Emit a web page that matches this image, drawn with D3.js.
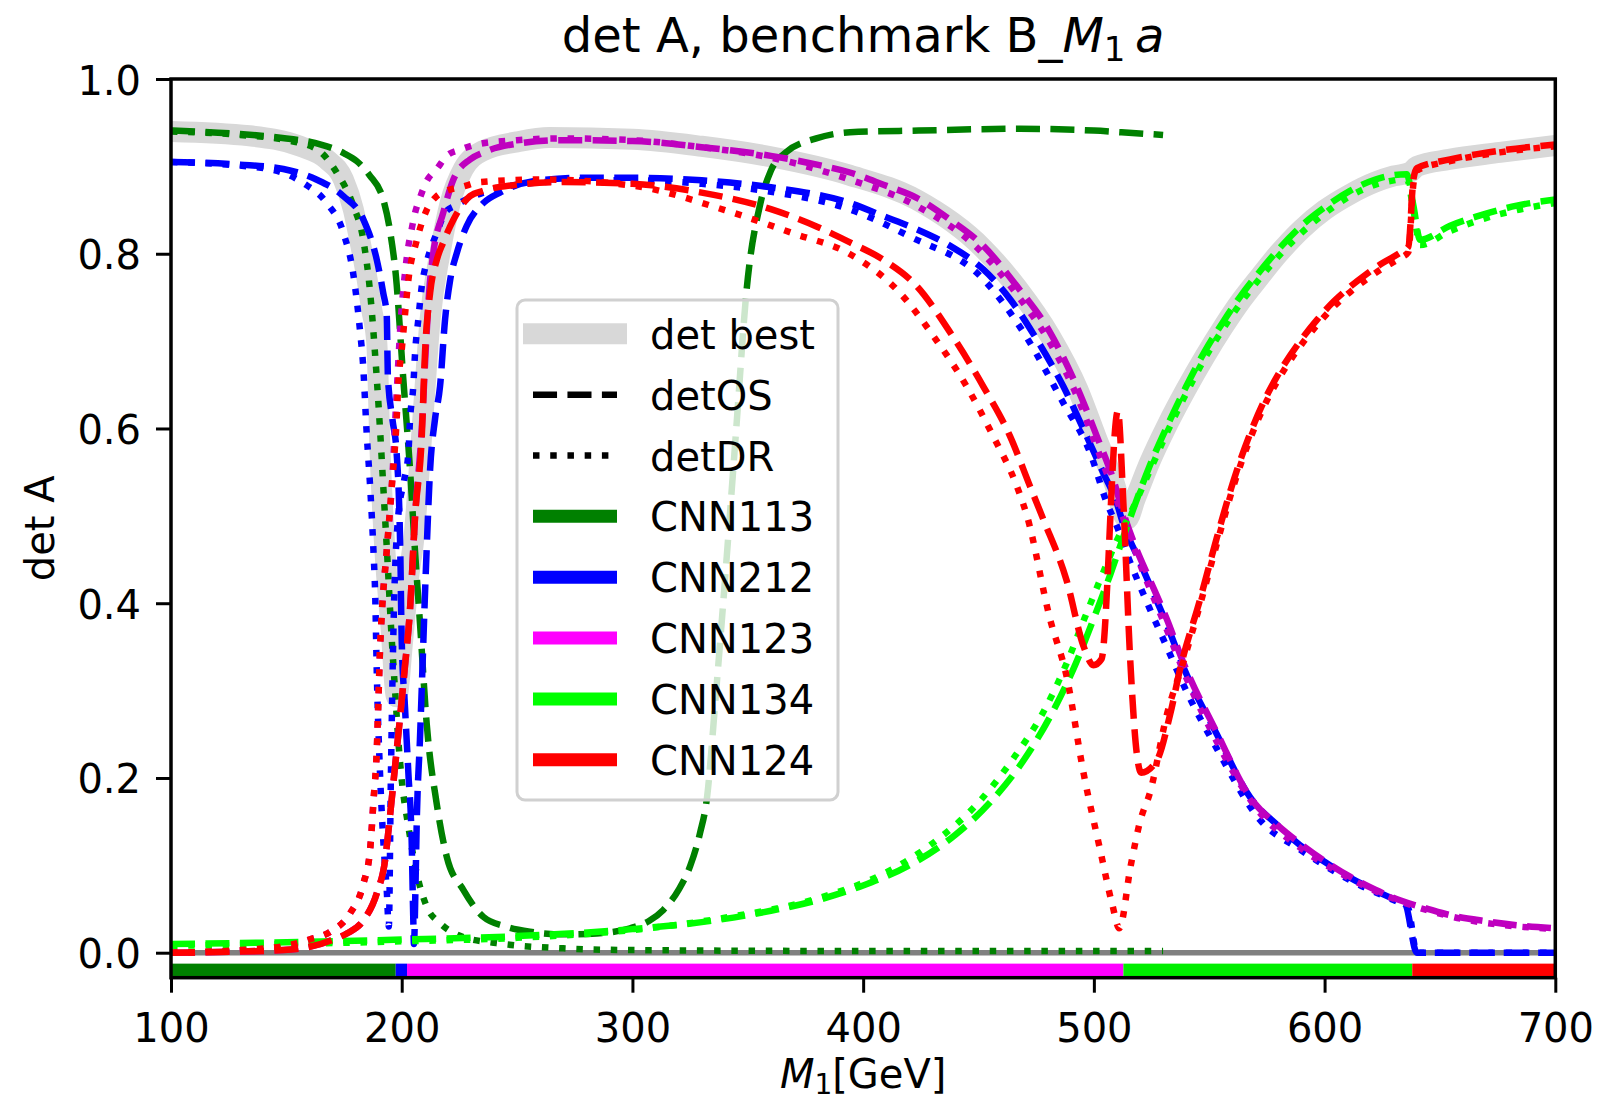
<!DOCTYPE html>
<html><head><meta charset="utf-8">
<script src="https://cdn.jsdelivr.net/npm/d3@7"></script>
<style>
html,body{margin:0;padding:0;background:#fff;}
svg text{font-family:"DejaVu Sans",sans-serif;fill:#000;}
</style></head>
<body>
<svg id="chart" width="1600" height="1105"></svg>
<script>
// ---------------- data ----------------
const xTicks = [100, 200, 300, 400, 500, 600, 700];
const yTicks = [0.0, 0.2, 0.4, 0.6, 0.8, 1.0];
const legendLabels = ["det best", "detOS", "detDR", "CNN113", "CNN212", "CNN123", "CNN134", "CNN124"];
const models = ["CNN113", "CNN212", "CNN123", "CNN134", "CNN124"];

const detBest = [[100,0.94],[134,0.935],[156,0.923],[167.5,0.908],[174.7,0.885],[179,0.851],[182,0.813],[184.8,0.774],[187,0.736],[189.2,0.698],[190.6,0.575],[192.8,0.457],[195.3,0.375],[197.8,0.293],[200.5,0.36],[203,0.43],[205.5,0.48],[207.5,0.55],[209.4,0.62],[212.3,0.725],[216.6,0.801],[221,0.858],[226.7,0.897],[235.4,0.918],[250,0.928],[264,0.933],[300,0.931],[330,0.923],[360,0.911],[394,0.89],[423,0.862],[452,0.806],[467,0.76],[481,0.706],[493,0.645],[501,0.59],[508.5,0.54],[514.3,0.496],[518,0.52],[524,0.56],[532,0.605],[540,0.645],[548,0.682],[556,0.716],[564,0.747],[572,0.774],[580,0.8],[590,0.828],[600,0.85],[611,0.868],[622,0.882],[630,0.889],[637,0.893],[640,0.9],[654,0.908],[676,0.916],[700,0.924]];

const zeroLine = [[100,0],[700,0]];

const cnn113OS = [[100,0.941],[130,0.937],[150,0.932],[165,0.925],[175,0.915],[180.5,0.906],[186,0.89],[192,0.862],[195,0.825],[197.5,0.774],[200.7,0.656],[203.6,0.553],[205.8,0.458],[207.9,0.378],[210.8,0.263],[215.2,0.17],[219.5,0.11],[226.7,0.072],[235.4,0.041],[245,0.03],[255.6,0.024],[270,0.021],[284.5,0.022],[299,0.028],[307,0.036],[313.4,0.049],[320,0.072],[325,0.099],[329.3,0.137],[332.2,0.175],[336,0.29],[340.9,0.454],[345,0.6],[349.5,0.759],[355.4,0.857],[360,0.895],[366.5,0.916],[379.7,0.932],[394.3,0.939],[424,0.941],[468,0.943],[500,0.941],[512,0.939],[530,0.936]];
const cnn113DR = [[100,0.94],[130,0.936],[150,0.93],[163,0.92],[171.8,0.893],[179,0.855],[183.4,0.815],[186.3,0.756],[188.4,0.687],[190.6,0.599],[192,0.534],[193.5,0.465],[195.7,0.358],[197.1,0.301],[198.5,0.244],[200,0.198],[202.9,0.144],[206.5,0.091],[210.8,0.053],[216.6,0.034],[226.6,0.018],[241,0.011],[270,0.005],[300,0.003],[400,0.002],[530,0.002]];

const cnn212OS = [[100,0.905],[130,0.902],[148.7,0.897],[163,0.885],[174.7,0.866],[183.4,0.839],[189.2,0.793],[192,0.755],[193.5,0.73],[194,0.66],[196,0.61],[197.8,0.572],[199.3,0.47],[200,0.358],[201.4,0.282],[202.9,0.205],[204.3,0.129],[205,0.04],[205.3,0.01],[206,0.08],[206.5,0.148],[207.9,0.244],[210.8,0.461],[212.3,0.553],[214.4,0.61],[216.6,0.648],[218.8,0.725],[221,0.77],[223.9,0.801],[228.2,0.832],[235.4,0.858],[242.6,0.87],[257,0.883],[280,0.887],[300,0.887],[330,0.884],[360,0.876],[394.3,0.858],[408.8,0.843],[423.2,0.828],[437.7,0.809],[452.1,0.782],[463.7,0.748],[475.2,0.702],[486.8,0.648],[495.5,0.599],[504.1,0.549],[509.9,0.515],[512.8,0.49],[518.6,0.455],[524.4,0.42],[531.6,0.376],[538.8,0.327],[553.3,0.25],[567.7,0.178],[580,0.145],[589.4,0.123],[600,0.104],[611,0.086],[622,0.071],[632.7,0.058],[635,0.055],[640,0.0],[700,0.0]];
const cnn212DR = [[100,0.905],[140,0.898],[157.3,0.881],[167.5,0.858],[174.7,0.824],[179.1,0.775],[182,0.71],[183.2,0.675],[184.9,0.591],[186.3,0.534],[187.8,0.457],[188.5,0.41],[189.2,0.32],[190.6,0.205],[192,0.129],[193.5,0.072],[194.4,0.03],[195.3,0.2],[196.5,0.38],[198.5,0.5],[201,0.54],[202.9,0.572],[203.6,0.61],[205,0.648],[205.8,0.687],[207.2,0.725],[208.7,0.763],[210.8,0.79],[213,0.809],[215.2,0.824],[218.8,0.847],[223.1,0.855],[235.4,0.87],[250,0.879],[280,0.884],[300,0.884],[330,0.88],[360,0.871],[394,0.851],[420,0.82],[452,0.771],[469.5,0.71],[486.8,0.629],[498.4,0.572],[505.6,0.515],[510,0.488],[515,0.452],[524,0.395],[531.6,0.35],[540,0.3],[553,0.235],[572,0.152],[589.4,0.118],[611,0.083],[632.7,0.057],[636,0.053],[640,0.0],[700,0.0]];

const cnn123OS = [[100,0.0],[148.7,0.003],[170.4,0.015],[176.2,0.022],[183.4,0.037],[189.2,0.068],[192.8,0.106],[194.9,0.156],[197.1,0.213],[199.3,0.27],[201.4,0.328],[203.6,0.393],[205.8,0.5],[208.7,0.6],[210.6,0.7],[212,0.76],[213.7,0.801],[218,0.847],[222.4,0.885],[229.6,0.908],[235.4,0.916],[250,0.926],[270,0.93],[300,0.929],[330,0.922],[360,0.912],[380,0.902],[394.3,0.893],[408.8,0.879],[423.2,0.864],[437.7,0.839],[452.1,0.809],[466.6,0.763],[481,0.71],[492.6,0.648],[501.3,0.591],[508.5,0.541],[512.8,0.503],[518.6,0.461],[524.4,0.426],[531.6,0.382],[538.8,0.332],[553.3,0.252],[567.7,0.178],[580,0.145],[589.4,0.125],[600,0.105],[611,0.087],[622,0.072],[632.7,0.06],[645,0.05],[654.4,0.043],[670,0.036],[685,0.031],[700,0.028]];
const cnn123DR = [[100,0.0],[130,0.003],[150,0.008],[160,0.015],[169,0.024],[177.6,0.045],[183.4,0.079],[186.3,0.118],[187.8,0.175],[189.2,0.232],[189.9,0.289],[190.6,0.347],[191.3,0.385],[193.5,0.46],[195.7,0.534],[197.8,0.64],[199.5,0.72],[201.5,0.78],[202.9,0.809],[204.3,0.828],[205.8,0.847],[207.9,0.864],[210.8,0.883],[215.2,0.897],[219.5,0.912],[225.3,0.919],[232.5,0.925],[250,0.93],[270,0.932],[300,0.93],[330,0.922],[360,0.91],[394,0.885],[423,0.855],[452,0.8],[467,0.752],[481,0.698],[493,0.635],[501,0.58],[508,0.532],[512.8,0.497],[520,0.445],[531.6,0.37],[540,0.315],[553,0.243],[572,0.16],[589,0.121],[611,0.085],[632.7,0.059],[654,0.042],[700,0.027]];

const cnn134OS = [[100,0.01],[150,0.012],[200,0.015],[250,0.019],[300,0.027],[330,0.035],[360,0.048],[380,0.06],[400,0.077],[420,0.1],[440,0.135],[455,0.172],[470,0.222],[482,0.275],[492,0.33],[500,0.383],[507,0.432],[512,0.47],[517,0.507],[524,0.556],[532,0.604],[540,0.648],[548,0.688],[556,0.722],[564,0.753],[572,0.78],[580,0.805],[590,0.832],[600,0.853],[611,0.872],[622,0.885],[630,0.89],[635.6,0.891],[638.5,0.855],[641.4,0.816],[654.4,0.832],[668.9,0.845],[683.3,0.855],[700,0.862]];
const cnn134DR = [[100,0.008],[150,0.01],[200,0.013],[250,0.017],[300,0.026],[340,0.04],[380,0.062],[410,0.092],[430,0.125],[450,0.172],[465,0.222],[478,0.275],[488,0.33],[496,0.383],[504,0.435],[510,0.472],[515.7,0.502],[524,0.55],[532,0.597],[540,0.64],[548,0.68],[556,0.714],[564,0.745],[572,0.772],[580,0.797],[590,0.824],[600,0.846],[611,0.866],[622,0.879],[630,0.884],[635.6,0.886],[638.5,0.85],[641.4,0.81],[654.4,0.826],[668.9,0.84],[683.3,0.85],[700,0.858]];

const cnn124OS = [[100,0.0],[148.7,0.003],[170.4,0.015],[176.2,0.022],[183.4,0.037],[189.2,0.068],[192.8,0.106],[194.9,0.156],[197.1,0.213],[199.3,0.27],[201.4,0.328],[203.6,0.393],[205.8,0.5],[208.7,0.591],[210.1,0.687],[212.3,0.755],[215.2,0.793],[218,0.813],[222.4,0.839],[229.6,0.866],[235.4,0.872],[250,0.879],[270,0.882],[300,0.88],[330,0.87],[360,0.851],[380,0.831],[394.3,0.813],[408.8,0.793],[423.2,0.763],[437.7,0.71],[452.1,0.648],[463.7,0.591],[472.3,0.534],[478.1,0.496],[488.2,0.426],[495.5,0.351],[499.8,0.329],[503.3,0.336],[510.4,0.62],[512.8,0.514],[515.7,0.338],[518.6,0.228],[520.5,0.206],[527.3,0.22],[533,0.272],[537.4,0.325],[546,0.404],[553.3,0.475],[560.5,0.54],[567.7,0.594],[575,0.638],[582.2,0.672],[589.4,0.7],[596.6,0.724],[603.8,0.745],[611,0.762],[618.3,0.777],[625.5,0.79],[632.7,0.801],[636.3,0.808],[638.5,0.885],[640,0.898],[654.4,0.908],[676,0.918],[700,0.925]];
const cnn124DR = [[100,0.0],[130,0.003],[150,0.008],[160,0.015],[169,0.024],[177.6,0.045],[183.4,0.079],[186.3,0.118],[187.8,0.175],[189.2,0.232],[189.9,0.289],[190.6,0.347],[191.3,0.385],[193.5,0.46],[195.7,0.534],[197.8,0.61],[198.5,0.65],[200,0.69],[201.4,0.73],[202.9,0.77],[206.5,0.815],[210.8,0.85],[215.2,0.866],[219.5,0.872],[226.7,0.877],[233.9,0.882],[260,0.885],[300,0.878],[340,0.85],[370,0.823],[394,0.8],[416,0.755],[430.4,0.706],[444.9,0.648],[456.4,0.591],[466.6,0.534],[471,0.5],[481,0.382],[488.2,0.316],[495.5,0.206],[502.7,0.118],[508,0.055],[511,0.028],[516,0.1],[520,0.15],[524.4,0.184],[531.6,0.272],[538.8,0.333],[546,0.398],[553.3,0.468],[560.5,0.534],[567.7,0.588],[575,0.632],[582.2,0.666],[589.4,0.694],[596.6,0.718],[603.8,0.739],[611,0.756],[618.3,0.771],[625.5,0.784],[632.7,0.795],[636.3,0.802],[638.5,0.88],[640,0.895],[654.4,0.906],[676,0.916],[700,0.923]];

// best-model strip along the bottom
const bestBreaks = [100, 197.4, 202.3, 512.8, 638, 700];
const bestModel = ["CNN113", "CNN212", "CNN123", "CNN134", "CNN124"];

// ---------------- styles ----------------
const lineColor = {CNN113:"#008000", CNN212:"#0000ff", CNN123:"#bf00bf", CNN134:"#00ff00", CNN124:"#ff0000"};
const keyColor  = {CNN113:"#008000", CNN212:"#0000ff", CNN123:"#ff00ff", CNN134:"#00ff00", CNN124:"#ff0000"};
const LW = 6.5;
const DASH = `${3.7*LW},${1.6*LW}`;
const DOT = `${1*LW},${1.65*LW}`;

// ---------------- layout ----------------
const svg = d3.select("#chart");
const L = 171, R = 1555.3, T = 79, B = 977.7;
const yMin = -0.0286;
const x = d3.scaleLinear().domain([100, 700]).range([L, R]);
const y = d3.scaleLinear().domain([yMin, 1.0]).range([B, T]);

svg.append("defs").append("clipPath").attr("id","clip")
  .append("rect").attr("x",L).attr("y",T).attr("width",R-L).attr("height",B-T);

const plot = svg.append("g").attr("clip-path","url(#clip)");
const line = d3.line().x(d => x(d[0])).y(d => y(d[1])).curve(d3.curveMonotoneX);

// det best band
plot.append("path").datum(detBest).attr("d", line)
  .attr("fill","none").attr("stroke","#d8d8d8").attr("stroke-width",21)
  .attr("stroke-linejoin","round").attr("stroke-linecap","round");

// zero line
plot.append("path").datum(zeroLine).attr("d", d3.line().x(d=>x(d[0])).y(d=>y(d[1])))
  .attr("fill","none").attr("stroke","#808080").attr("stroke-width",5.5);

// bottom strip
const strip = bestModel.map((m,i) => ({m, x0: bestBreaks[i], x1: bestBreaks[i+1]}));
plot.selectAll("rect.strip").data(strip).enter().append("rect")
  .attr("class","strip")
  .attr("x", d => x(d.x0)).attr("width", d => x(d.x1) - x(d.x0))
  .attr("y", y(-0.0125)).attr("height", y(yMin) - y(-0.0125))
  .attr("fill", d => d.m === "CNN134" ? "#00ee00" : keyColor[d.m]);

const series = [
  {m:"CNN113", os:cnn113OS, dr:cnn113DR},
  {m:"CNN212", os:cnn212OS, dr:cnn212DR},
  {m:"CNN123", os:cnn123OS, dr:cnn123DR},
  {m:"CNN134", os:cnn134OS, dr:cnn134DR},
  {m:"CNN124", os:cnn124OS, dr:cnn124DR}
];
series.forEach(s => {
  plot.append("path").datum(s.os).attr("d", line)
    .attr("fill","none").attr("stroke", lineColor[s.m]).attr("stroke-width", LW)
    .attr("stroke-dasharray", DASH).attr("stroke-linecap","butt").attr("stroke-linejoin","round");
  plot.append("path").datum(s.dr).attr("d", line)
    .attr("fill","none").attr("stroke", lineColor[s.m]).attr("stroke-width", LW)
    .attr("stroke-dasharray", DOT).attr("stroke-linecap","butt").attr("stroke-linejoin","round");
});

// ---------------- axes ----------------
const axes = svg.append("g");
const xAxis = d3.axisBottom(x).tickValues(xTicks).tickFormat(d3.format("d")).tickSize(15).tickPadding(10);
const gx = axes.append("g").attr("transform",`translate(0,${B})`).call(xAxis);
gx.select(".domain").remove();
gx.selectAll(".tick line").attr("stroke","#000").attr("stroke-width",3);
gx.selectAll(".tick text").attr("font-size",40).attr("font-family","DejaVu Sans").attr("dy",null).attr("y",null)
  .attr("transform","translate(0,64)");

const yAxis = d3.axisLeft(y).tickValues(yTicks).tickFormat(d3.format(".1f")).tickSize(15).tickPadding(12);
const gy = axes.append("g").attr("transform",`translate(${L},0)`).call(yAxis);
gy.select(".domain").remove();
gy.selectAll(".tick line").attr("stroke","#000").attr("stroke-width",3);
gy.selectAll(".tick text").attr("font-size",40).attr("font-family","DejaVu Sans").attr("dy",null)
  .attr("transform","translate(-3,15)");

axes.append("rect").attr("x",L).attr("y",T).attr("width",R-L).attr("height",B-T)
  .attr("fill","none").attr("stroke","#000").attr("stroke-width",3.5);

// title
const title = svg.append("text").attr("x",(L+R)/2).attr("y",52).attr("text-anchor","middle").attr("font-size",48);
title.append("tspan").text("det A, benchmark B_");
title.append("tspan").attr("font-style","italic").text("M");
title.append("tspan").attr("font-size",34).attr("dy",9).text("1");
title.append("tspan").attr("dy",-9).text("\u2009");
title.append("tspan").attr("font-style","italic").text("a");

// x label
const xl = svg.append("text").attr("x",(L+R)/2).attr("y",1088).attr("text-anchor","middle").attr("font-size",40);
xl.append("tspan").attr("font-style","italic").text("M");
xl.append("tspan").attr("font-size",28).attr("dy",6).text("1");
xl.append("tspan").attr("dy",-6).text("[GeV]");

// y label
svg.append("text").attr("transform",`translate(54,${(T+B)/2}) rotate(-90)`)
  .attr("text-anchor","middle").attr("font-size",40).text("det A");

// ---------------- legend ----------------
const lg = svg.append("g");
lg.append("rect").attr("x",517).attr("y",300).attr("width",321).attr("height",500)
  .attr("rx",8).attr("fill","#fff").attr("fill-opacity",0.8)
  .attr("stroke","#d0d0d0").attr("stroke-width",3);
const rowY = i => 333.8 + i*60.85;
const keyStyle = [
  {stroke:"#d8d8d8", w:21, dash:null, x0:523, x1:627},
  {stroke:"#000", w:LW, dash:DASH, x0:533, x1:617},
  {stroke:"#000", w:LW, dash:DOT, x0:533, x1:617}
].concat(models.map(m => ({stroke:keyColor[m], w:13, dash:null, x0:533, x1:617})));
legendLabels.forEach((lab,i) => {
  const k = keyStyle[i];
  lg.append("line").attr("x1",k.x0).attr("x2",k.x1).attr("y1",rowY(i)).attr("y2",rowY(i))
    .attr("stroke",k.stroke).attr("stroke-width",k.w)
    .attr("stroke-dasharray",k.dash).attr("stroke-linecap","butt");
  lg.append("text").attr("x",650).attr("y",rowY(i)+15).attr("font-size",40).text(lab);
});
</script>
</body></html>
